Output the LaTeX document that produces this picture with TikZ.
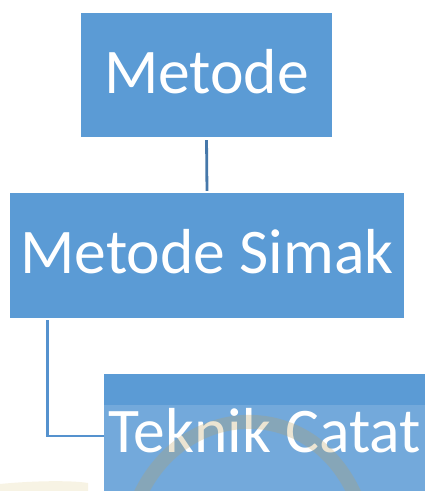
\documentclass[tikz,border=0pt]{standalone}
\usepackage{fontspec}
\setmainfont{Carlito}
\definecolor{boxblue}{HTML}{5B9BD5}
\definecolor{lineA}{HTML}{4678AA}
\definecolor{lineB}{HTML}{5592CE}
\definecolor{wmark}{HTML}{B8A060}
\definecolor{cream}{HTML}{EFE6C4}
\tikzset{
  orgbox/.style={fill=boxblue, draw=none, inner sep=0pt, text=white,
    font=\fontsize{63.6}{68}\selectfont, text height=36.6pt, text depth=0pt},
  linkA/.style={draw=lineA, line width=2.8pt},
  linkB/.style={draw=lineB, line width=2.8pt},
}
\begin{document}
\begin{tikzpicture}[x=1pt,y=-1pt]
\useasboundingbox (0,0) rectangle (427,491);
\clip (0,0) rectangle (427,491);
\fill[white] (0,0) rectangle (427,491);
\node[orgbox, minimum width=251pt, minimum height=124pt] (top) at (206.5,75) {Metode};
\node[orgbox, minimum width=394pt, minimum height=124.5pt] (mid) at (207,255.25) {Metode Simak};
\node[orgbox, minimum width=321pt, minimum height=124pt, text height=33.4pt] (bot) at (264.5,436) {Teknik Catat};
\coordinate (bend) at (47.5,436);
\draw[linkA, shorten <=3pt, shorten >=2pt] (top.south) -- (mid.north);
\draw[linkB, shorten <=2.5pt] (mid.south -| bend) |- (bot.west);
% watermark overlay
\fill[white, opacity=0.15] (104,405) rectangle (427,491);
\draw[wmark, opacity=0.28, line width=14pt] (140,495) .. controls (185,400) and (310,395) .. (355,495);
\fill[cream, opacity=0.45] (0,491) -- (0,484) .. controls (30,481) and (70,480) .. (88,483) -- (88,491) -- cycle;
\end{tikzpicture}
\end{document}
